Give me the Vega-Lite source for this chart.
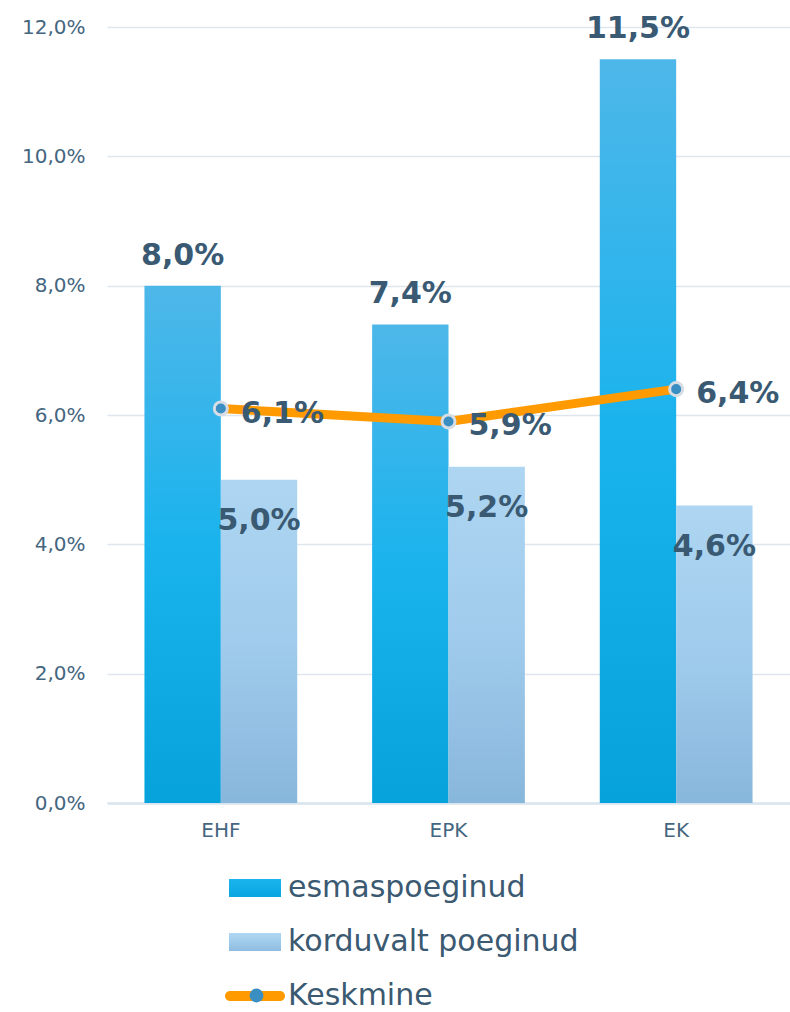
{
  "$schema": "https://vega.github.io/schema/vega-lite/v6.json",
  "width": 683,
  "height": 776,
  "autosize": {"type": "none"},
  "padding": {"left": 107, "top": 27, "right": 0, "bottom": 209},
  "background": "white",
  "config": {
    "locale": {"number": {"decimal": ",", "thousands": " ", "grouping": [3], "currency": ["", " €"]}},
    "view": {"stroke": null},
    "font": "DejaVu Sans",
    "axis": {"labelFont": "DejaVu Sans", "labelColor": "#456680", "title": null}
  },
  "data": {
    "values": [
      {"cat": "EHF", "series": "esmaspoeginud", "value": 0.080},
      {"cat": "EPK", "series": "esmaspoeginud", "value": 0.074},
      {"cat": "EK", "series": "esmaspoeginud", "value": 0.115},
      {"cat": "EHF", "series": "korduvalt poeginud", "value": 0.050},
      {"cat": "EPK", "series": "korduvalt poeginud", "value": 0.052},
      {"cat": "EK", "series": "korduvalt poeginud", "value": 0.046},
      {"cat": "EHF", "series": "Keskmine", "value": 0.061},
      {"cat": "EPK", "series": "Keskmine", "value": 0.059},
      {"cat": "EK", "series": "Keskmine", "value": 0.064}
    ]
  },
  "encoding": {
    "x": {
      "field": "cat", "type": "nominal", "sort": ["EHF", "EPK", "EK"],
      "scale": {"paddingInner": 0.329, "paddingOuter": 0.1645},
      "axis": {"labelAngle": 0, "domain": true, "domainColor": "#d9e4ee", "domainWidth": 2.5, "ticks": false, "labelFontSize": 20, "labelPadding": 17, "grid": false}
    },
    "y": {
      "field": "value", "type": "quantitative",
      "scale": {"domain": [0, 0.12], "nice": false, "zero": true},
      "axis": {"values": [0, 0.02, 0.04, 0.06, 0.08, 0.1, 0.12], "format": ".1%", "grid": true, "gridColor": "#dde6ef", "gridWidth": 1.5, "domain": false, "ticks": false, "labelFontSize": 20, "labelPadding": 22}
    }
  },
  "layer": [
    {
      "transform": [{"filter": "datum.series === 'esmaspoeginud'"}],
      "mark": {"type": "bar", "fill": {"gradient": "linear", "x1": 0, "y1": 0, "x2": 0, "y2": 1, "stops": [{"offset": 0, "color": "#4eb7e9"}, {"offset": 0.5, "color": "#1ab3ed"}, {"offset": 1, "color": "#06a2db"}]}},
      "encoding": {"xOffset": {"field": "series", "type": "nominal", "scale": {"domain": ["esmaspoeginud", "korduvalt poeginud"], "paddingInner": 0, "paddingOuter": 0}}}
    },
    {
      "transform": [{"filter": "datum.series === 'korduvalt poeginud'"}],
      "mark": {"type": "bar", "fill": {"gradient": "linear", "x1": 0, "y1": 0, "x2": 0, "y2": 1, "stops": [{"offset": 0, "color": "#aed6f2"}, {"offset": 0.5, "color": "#a0cbec"}, {"offset": 1, "color": "#88b7dc"}]}},
      "encoding": {"xOffset": {"field": "series", "type": "nominal", "scale": {"domain": ["esmaspoeginud", "korduvalt poeginud"], "paddingInner": 0, "paddingOuter": 0}}}
    },
    {
      "transform": [{"filter": "datum.series === 'Keskmine'"}],
      "mark": {"type": "line", "strokeWidth": 9, "strokeCap": "round", "strokeJoin": "round"},
      "encoding": {
        "color": {
          "field": "series", "type": "nominal",
          "scale": {"domain": ["esmaspoeginud", "korduvalt poeginud", "Keskmine"], "range": ["#14b0eb", "#a4cdee", "#ff9a00"]},
          "legend": {
            "orient": "none", "legendX": 128, "legendY": 841, "direction": "vertical", "title": null,
            "padding": 0, "labelFontSize": 30, "labelColor": "#3b5a72", "labelFont": "DejaVu Sans", "labelOffset": 13, "labelLimit": 0,
            "symbolSize": 1600, "rowPadding": 19,
            "encode": {
              "symbols": {
                "update": {
                  "shape": {"signal": "datum.value === 'Keskmine' ? 'M-1.25,-0.25 H1.25 A0.25,0.25 0 0 1 1.25,0.25 H-1.25 A0.25,0.25 0 0 1 -1.25,-0.25 Z' : 'M-1.3,-0.45 H1.3 V0.45 H-1.3 Z'"},
                  "fill": {"signal": "datum.value === 'esmaspoeginud' ? {gradient: 'linear', x1: 0, y1: 0, x2: 0, y2: 1, stops: [{offset: 0, color: '#1ab4ee'}, {offset: 1, color: '#08a6e0'}]} : datum.value === 'korduvalt poeginud' ? {gradient: 'linear', x1: 0, y1: 0, x2: 0, y2: 1, stops: [{offset: 0, color: '#b0d8f4'}, {offset: 1, color: '#8ebce0'}]} : '#ff9a00'"},
                  "stroke": {"value": "transparent"},
                  "strokeWidth": {"value": 0},
                  "size": {"value": 1600},
                  "opacity": {"value": 1},
                  "fillOpacity": {"value": 1}
                }
              }
            }
          }
        }
      }
    },
    {
      "transform": [{"filter": "datum.series === 'Keskmine'"}],
      "mark": {"type": "point", "filled": true, "fill": "#3a8ec1", "stroke": "#d6dde4", "strokeWidth": 3, "size": 170, "opacity": 1},
      "encoding": {
        "shape": {
          "field": "series", "type": "nominal",
          "scale": {"domain": ["Keskmine"], "range": ["circle"]},
          "legend": {
            "orient": "none", "legendX": 141, "legendY": 960, "title": null, "padding": 0,
            "labelOpacity": 0, "labelFontSize": 1, "symbolSize": 190, "symbolFillColor": "#3a8ec1",
            "symbolStrokeColor": "#d6dde4", "symbolStrokeWidth": 3, "symbolOpacity": 1,
            "encode": {"symbols": {"update": {"stroke": {"value": "#d6dde4"}, "strokeWidth": {"value": 3}, "fill": {"value": "#3a8ec1"}}}}
          }
        }
      }
    },
    {
      "transform": [{"filter": "datum.series === 'esmaspoeginud'"}],
      "mark": {"type": "text", "fontSize": 30, "fontWeight": "bold", "color": "#3a5a73", "baseline": "alphabetic", "dy": -21},
      "encoding": {
        "xOffset": {"field": "series", "type": "nominal", "scale": {"domain": ["esmaspoeginud", "korduvalt poeginud"], "paddingInner": 0, "paddingOuter": 0}},
        "text": {"field": "value", "type": "quantitative", "format": ".1%"}
      }
    },
    {
      "transform": [{"filter": "datum.series === 'korduvalt poeginud'"}],
      "mark": {"type": "text", "fontSize": 30, "fontWeight": "bold", "color": "#3a5a73", "baseline": "alphabetic", "dy": 50},
      "encoding": {
        "xOffset": {"field": "series", "type": "nominal", "scale": {"domain": ["esmaspoeginud", "korduvalt poeginud"], "paddingInner": 0, "paddingOuter": 0}},
        "text": {"field": "value", "type": "quantitative", "format": ".1%"}
      }
    },
    {
      "transform": [{"filter": "datum.series === 'Keskmine'"}],
      "mark": {"type": "text", "fontSize": 30, "fontWeight": "bold", "color": "#3a5a73", "baseline": "alphabetic", "align": "left", "dx": 20, "dy": 14},
      "encoding": {
        "text": {"field": "value", "type": "quantitative", "format": ".1%"}
      }
    }
  ]
}
